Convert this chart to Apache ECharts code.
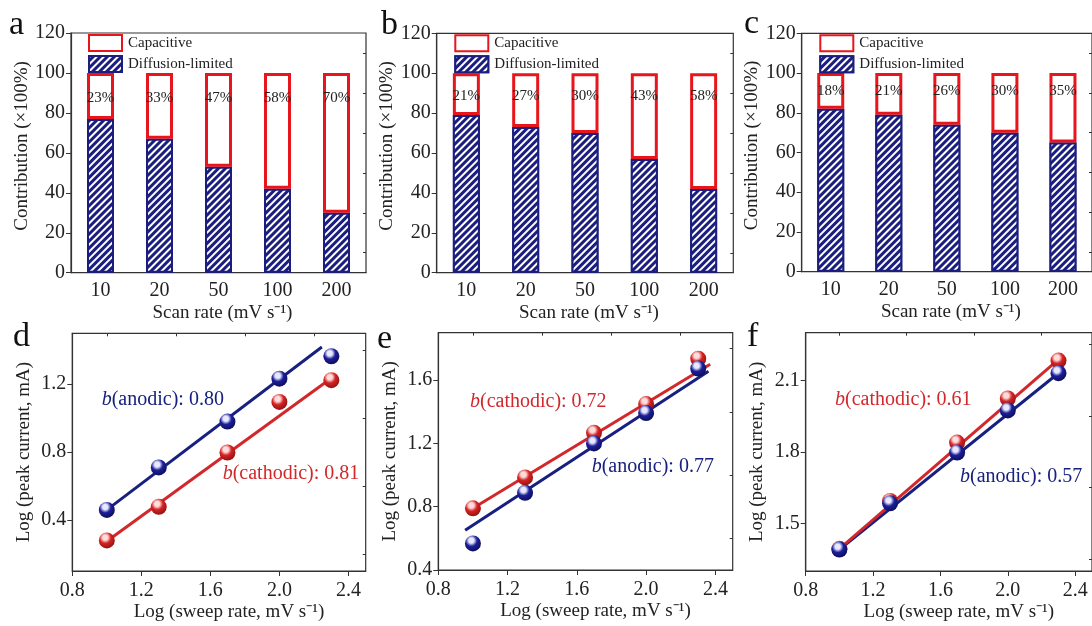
<!DOCTYPE html>
<html><head><meta charset="utf-8">
<script src="https://cdn.jsdelivr.net/npm/echarts@6/dist/echarts.min.js"></script>
<style>html,body{margin:0;padding:0;background:#fff}#c{width:1092px;height:626px}</style>
</head><body><div id="c"></div>
<script>
const FONT = 'Liberation Serif';

// ---- bar panels (a, b, c) ----
const scanRates = ['10', '20', '50', '100', '200'];
const capacitiveA = [23, 33, 47, 58, 70];
const diffusionA  = [77, 67, 53, 42, 30];
const capacitiveB = [21, 27, 30, 43, 58];
const diffusionB  = [79, 73, 70, 57, 42];
const capacitiveC = [18, 21, 26, 30, 35];
const diffusionC  = [82, 79, 74, 70, 65];
const barYTicks = [0, 20, 40, 60, 80, 100, 120];
const barYMinor = [10, 30, 50, 70, 90, 110];

// ---- log-log panels (d, e, f) ----
const logRate = [1.0, 1.301, 1.699, 2.0, 2.301];
const anodicD    = [0.46, 0.71, 0.98, 1.233, 1.365];
const cathodicD  = [0.28, 0.478, 0.798, 1.096, 1.224];
const anodicE    = [0.568, 0.888, 1.2, 1.392, 1.673];
const cathodicE  = [0.79, 0.985, 1.267, 1.449, 1.736];
const anodicF    = [1.39, 1.584, 1.797, 1.974, 2.13];
const cathodicF  = [1.393, 1.594, 1.839, 2.024, 2.183];
// fitted lines (end points)
const fitAnodicD   = [[1.0, 0.46], [2.246, 1.419]];
const fitCathodicD = [[1.0, 0.275], [2.3, 1.235]];
const fitAnodicE   = [[0.955, 0.652], [2.36, 1.657]];
const fitCathodicE = [[1.0, 0.79], [2.37, 1.70]];
const fitAnodicF   = [[1.0, 1.39], [2.3, 2.13]];
const fitCathodicF = [[1.0, 1.393], [2.3, 2.187]];
const logXTicks = [0.8, 1.2, 1.6, 2.0, 2.4];
const logXMinor = [1.0, 1.4, 1.8, 2.2];
const yTicksD = [0.4, 0.8, 1.2];
const yMinorD = [0.2, 0.6, 1.0, 1.4];
const yTicksE = [0.4, 0.8, 1.2, 1.6];
const yMinorE = [0.6, 1.0, 1.4, 1.8];
const yTicksF = [1.5, 1.8, 2.1];
const yMinorF = [1.35, 1.65, 1.95, 2.25];
const bLabels = {
  d: ['0.80', '0.81'], e: ['0.77', '0.72'], f: ['0.57', '0.61']
};

const NAVY = '#1b1e7e';
const RED = '#e8161c';
const LBLUE = '#17207f';
const LRED = '#d2282b';
const TXT = '#222';
const AX = '#333';

const grids = [], xAxes = [], yAxes = [], series = [], legends = [];

function sphere(body, dark, hi) {
  return { type: 'radial', x: 0.4, y: 0.32, r: 0.72,
    colorStops: [{ offset: 0, color: hi }, { offset: 0.22, color: hi }, { offset: 0.5, color: body }, { offset: 1, color: dark }] };
}

const axisLineStyle = { show: true, lineStyle: { color: AX, width: 1.2 } };

const barPanels = [
  { cap: capacitiveA, dif: diffusionA, grid: { left: 71, top: 33, width: 295, height: 239.7 }, legend: { left: 88, top: 33 }, dist: 18 },
  { cap: capacitiveB, dif: diffusionB, grid: { left: 436.7, top: 33.3, width: 296.6, height: 239.4 }, legend: { left: 454.3, top: 33.3 }, dist: 15 },
  { cap: capacitiveC, dif: diffusionC, grid: { left: 801.7, top: 33.3, width: 296, height: 238.4 }, legend: { left: 819.3, top: 33.3 }, dist: 11 }
];

barPanels.forEach((p, i) => {
  const gi = grids.length;
  grids.push(Object.assign({ show: true, borderColor: AX, borderWidth: 1.2, containLabel: false }, p.grid));
  const xi = xAxes.length;
  xAxes.push({ type: 'category', gridIndex: gi, data: scanRates, axisLine: axisLineStyle, axisTick: { show: false },
    axisLabel: { fontFamily: FONT, fontSize: 20, color: TXT, margin: 8 },
    name: 'Scan rate (mV s\u207B\u00B9)', nameLocation: 'middle', nameGap: 31,
    nameTextStyle: { fontFamily: FONT, fontSize: 19, color: TXT, padding: [0, 0, 0, 8] } });
  const yi = yAxes.length;
  yAxes.push({ type: 'value', gridIndex: gi, min: 0, max: 120, splitLine: { show: false }, axisLine: axisLineStyle,
    axisTick: { show: true, length: 5, customValues: barYTicks, lineStyle: { color: AX } },
    axisLabel: { customValues: barYTicks, fontFamily: FONT, fontSize: 20, color: TXT, margin: 6 },
    name: 'Contribution (\u00D7100%)', nameLocation: 'middle', nameGap: 38,
    nameTextStyle: { fontFamily: FONT, fontSize: 19, color: TXT, padding: [0, 0, 0, 14] } });
  yAxes.push({ type: 'value', gridIndex: gi, min: 0, max: 120, splitLine: { show: false }, axisLine: { show: false },
    axisTick: { show: true, inside: true, length: 3, customValues: barYMinor, lineStyle: { color: AX } },
    axisLabel: { show: false } });
  series.push({ name: 'Diffusion-limited', type: 'bar', stack: 's' + i, xAxisIndex: xi, yAxisIndex: yi, data: p.dif,
    barWidth: 27,
    itemStyle: { color: NAVY, borderColor: NAVY, borderWidth: 2,
      decal: { symbol: 'rect', symbolSize: 1, dashArrayX: [1, 0], dashArrayY: [2, 2.6], rotation: -Math.PI / 4, color: '#ffffff' } } });
  series.push({ name: 'Capacitive', type: 'bar', stack: 's' + i, xAxisIndex: xi, yAxisIndex: yi, data: p.cap,
    barWidth: 27,
    itemStyle: { color: '#ffffff', borderColor: RED, borderWidth: 3 },
    label: { show: true, position: 'insideTop', distance: p.dist, formatter: '{c}%', fontFamily: FONT, fontSize: 15, color: TXT } });
  legends.push({ data: ['Capacitive', 'Diffusion-limited'], orient: 'vertical', left: p.legend.left, top: p.legend.top + 1,
    itemWidth: 33, itemHeight: 16, itemGap: 3, padding: 0, icon: 'rect', selectedMode: false,
    textStyle: { fontFamily: FONT, fontSize: 15, color: TXT, padding: [0, 0, 0, 1] } });
});

const logPanels = [
  { an: anodicD, ca: cathodicD, fa: fitAnodicD, fc: fitCathodicD, ymin: 0.1, ymax: 1.5, yt: yTicksD, ym: yMinorD,
    grid: { left: 72.3, top: 333.3, width: 293.4, height: 237.7 } },
  { an: anodicE, ca: cathodicE, fa: fitAnodicE, fc: fitCathodicE, ymin: 0.4, ymax: 1.9, yt: yTicksE, ym: yMinorE,
    grid: { left: 438.3, top: 332.7, width: 294.4, height: 237.3 } },
  { an: anodicF, ca: cathodicF, fa: fitAnodicF, fc: fitCathodicF, ymin: 1.3, ymax: 2.3, yt: yTicksF, ym: yMinorF,
    grid: { left: 805.7, top: 332.7, width: 312.4, height: 238.3 } }
];

logPanels.forEach((p, i) => {
  const gi = grids.length;
  grids.push(Object.assign({ show: true, borderColor: AX, borderWidth: 1.2 }, p.grid));
  const xi = xAxes.length;
  xAxes.push({ type: 'value', gridIndex: gi, min: 0.8, max: 2.5, splitLine: { show: false }, axisLine: axisLineStyle,
    axisTick: { show: true, length: 5, customValues: logXTicks, lineStyle: { color: AX } },
    axisLabel: { customValues: logXTicks, fontFamily: FONT, fontSize: 20, color: TXT, margin: 10,
      formatter: v => v.toFixed(1) },
    name: 'Log (sweep rate, mV s\u207B\u00B9)', nameLocation: 'middle', nameGap: 32,
    nameTextStyle: { fontFamily: FONT, fontSize: 19, color: TXT, padding: [0, 0, 0, 20] } });
  xAxes.push({ type: 'value', gridIndex: gi, min: 0.8, max: 2.5, splitLine: { show: false }, axisLine: { show: false },
    axisTick: { show: true, inside: true, length: 3, customValues: logXMinor, lineStyle: { color: AX } },
    axisLabel: { show: false } });
  const yi = yAxes.length;
  yAxes.push({ type: 'value', gridIndex: gi, min: p.ymin, max: p.ymax, splitLine: { show: false }, axisLine: axisLineStyle,
    axisTick: { show: true, length: 5, customValues: p.yt, lineStyle: { color: AX } },
    axisLabel: { customValues: p.yt, fontFamily: FONT, fontSize: 20, color: TXT, margin: 6,
      formatter: v => v.toFixed(1) },
    name: 'Log (peak current, mA)', nameLocation: 'middle', nameGap: 39,
    nameTextStyle: { fontFamily: FONT, fontSize: 19, color: TXT } });
  yAxes.push({ type: 'value', gridIndex: gi, min: p.ymin, max: p.ymax, splitLine: { show: false }, axisLine: { show: false },
    axisTick: { show: true, inside: true, length: 3, customValues: p.ym, lineStyle: { color: AX } },
    axisLabel: { show: false } });
  series.push({ name: 'fit anodic', type: 'line', xAxisIndex: xi, yAxisIndex: yi, data: p.fa, symbol: 'none',
    lineStyle: { color: LBLUE, width: 3 }, z: 2, silent: true });
  series.push({ name: 'fit cathodic', type: 'line', xAxisIndex: xi, yAxisIndex: yi, data: p.fc, symbol: 'none',
    lineStyle: { color: LRED, width: 3 }, z: 2, silent: true });
  series.push({ name: 'cathodic', type: 'scatter', xAxisIndex: xi, yAxisIndex: yi,
    data: logRate.map((x, k) => [x, p.ca[k]]), symbolSize: 16,
    itemStyle: { color: sphere('#d42424', '#8e1010', '#ffdcdc'), opacity: 1 }, z: 3 });
  series.push({ name: 'anodic', type: 'scatter', xAxisIndex: xi, yAxisIndex: yi,
    data: logRate.map((x, k) => [x, p.an[k]]), symbolSize: 16,
    itemStyle: { color: sphere('#1c1f9a', '#0a0c55', '#e8e8ff'), opacity: 1 }, z: 4 });
});

function letter(t, x, y) {
  return { type: 'text', x: x, y: y, style: { text: t, fontFamily: FONT, fontSize: 34, fill: '#111', align: 'left', verticalAlign: 'middle' } };
}
function bText(name, val, color, x, y) {
  return { type: 'text', x: x, y: y, z: 10,
    style: { text: '{i|b}(' + name + '): ' + val, fontFamily: FONT, fontSize: 20, fill: color, align: 'left', verticalAlign: 'middle',
      rich: { i: { fontStyle: 'italic', fontFamily: FONT, fontSize: 20, fill: color } } } };
}

const graphics = [
  letter('a', 9, 25), letter('b', 381, 25), letter('c', 744, 24),
  letter('d', 13, 337), letter('e', 377, 339), letter('f', 747, 337),
  bText('anodic', bLabels.d[0], LBLUE, 101.7, 399.3),
  bText('cathodic', bLabels.d[1], LRED, 222.7, 474),
  bText('cathodic', bLabels.e[1], LRED, 470, 401.7),
  bText('anodic', bLabels.e[0], LBLUE, 591.7, 466.7),
  bText('cathodic', bLabels.f[1], LRED, 835, 400),
  bText('anodic', bLabels.f[0], LBLUE, 960, 476.7)
];

const chart = echarts.init(document.getElementById('c'), null, { renderer: 'canvas' });
chart.setOption({
  animation: false,
  backgroundColor: '#fff',
  textStyle: { fontFamily: FONT },
  grid: grids, xAxis: xAxes, yAxis: yAxes, legend: legends, series: series,
  graphic: graphics
});
</script></body></html>
